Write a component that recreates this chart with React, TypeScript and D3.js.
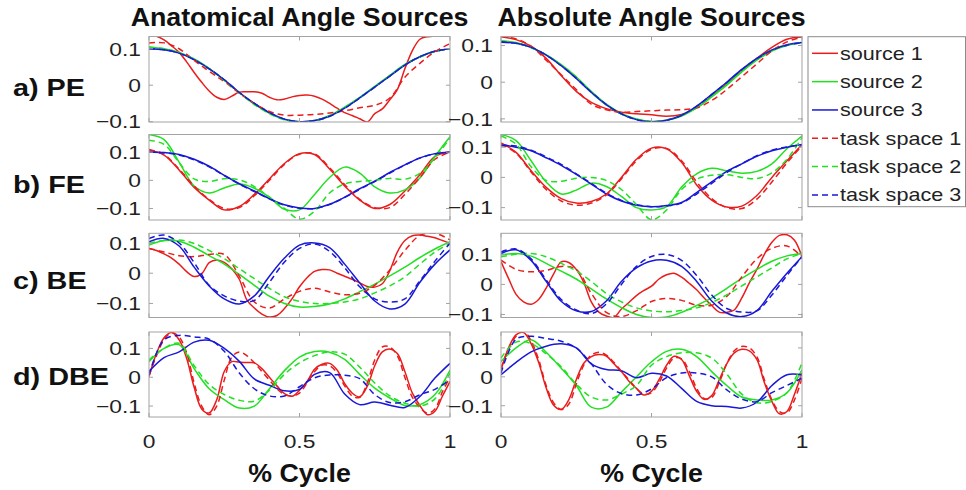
import React from "react";
import * as d3 from "d3";

// ---------- labels ----------
const COLUMN_TITLES = ["Anatomical Angle Sources", "Absolute Angle Sources"];
const ROW_LABELS = ["a) PE", "b) FE", "c) BE", "d) DBE"];
const LEGEND_LABELS = ["source 1", "source 2", "source 3", "task space 1", "task space 2", "task space 3"];
const X_TICKS = [0, 0.5, 1];
const Y_TICKS = [-0.1, 0, 0.1];
const X_LABEL = "% Cycle";

// ---------- axis limits (y) per panel: [row][col] ----------
const Y_LIMITS = [
  [[-0.1008, 0.1335], [-0.1085, 0.1246]],
  [[-0.141, 0.163], [-0.141, 0.142]],
  [[-0.1465, 0.132], [-0.11, 0.17]],
  [[-0.138, 0.157], [-0.139, 0.155]],
];

// ---------- data (values sampled uniformly over 0..1 of the cycle) ----------
// a) PE, anatomical
const peAnatSource1 = [0.134,0.134,0.124,0.108,0.09,0.064,0.035,0.008,-0.016,-0.033,-0.039,-0.03,-0.019,-0.018,-0.018,-0.022,-0.033,-0.04,-0.038,-0.032,-0.028,-0.027,-0.03,-0.038,-0.05,-0.063,-0.075,-0.083,-0.092,-0.101,-0.078,-0.065,-0.04,-0.012,0.045,0.095,0.126,0.133,0.134,0.134,0.134];
const peAnatSource2 = [0.105,0.1,0.09,0.072,0.046,0.014,-0.02,-0.052,-0.077,-0.094,-0.1,-0.097,-0.083,-0.06,-0.033,-0.003,0.027,0.057,0.078,0.093,0.1];
const peAnatSource3 = [0.1,0.097,0.088,0.07,0.045,0.015,-0.02,-0.05,-0.075,-0.093,-0.1,-0.097,-0.085,-0.063,-0.035,-0.005,0.025,0.055,0.078,0.093,0.1];
const peAnatTask1 = [0.116,0.116,0.1,0.068,0.038,0.01,-0.022,-0.05,-0.072,-0.082,-0.082,-0.08,-0.076,-0.07,-0.062,-0.055,-0.035,0.022,0.06,0.092,0.114];
const peAnatTask2 = [0.104,0.1,0.089,0.071,0.045,0.013,-0.021,-0.053,-0.078,-0.095,-0.1,-0.097,-0.084,-0.061,-0.034,-0.004,0.026,0.056,0.077,0.092,0.1];
const peAnatTask3 = [0.1,0.097,0.088,0.07,0.045,0.015,-0.02,-0.05,-0.075,-0.093,-0.1,-0.097,-0.085,-0.063,-0.035,-0.005,0.025,0.055,0.078,0.093,0.1];
// a) PE, absolute
const peAbsSource1 = [0.124,0.116,0.098,0.065,0.018,-0.025,-0.055,-0.072,-0.082,-0.086,-0.089,-0.093,-0.088,-0.07,-0.038,-0.005,0.03,0.065,0.095,0.117,0.123];
const peAbsSource2 = [0.113,0.108,0.095,0.075,0.048,0.015,-0.025,-0.06,-0.085,-0.1,-0.107,-0.104,-0.092,-0.07,-0.04,-0.008,0.028,0.06,0.085,0.1,0.108];
const peAbsSource3 = [0.109,0.106,0.095,0.074,0.045,0.01,-0.028,-0.062,-0.087,-0.102,-0.108,-0.104,-0.09,-0.065,-0.033,0.0,0.035,0.065,0.088,0.102,0.108];
const peAbsTask1 = [0.125,0.118,0.098,0.06,0.02,-0.02,-0.06,-0.075,-0.082,-0.08,-0.078,-0.076,-0.075,-0.07,-0.05,-0.02,0.015,0.05,0.085,0.11,0.123];
const peAbsTask2 = [0.112,0.107,0.094,0.074,0.047,0.013,-0.027,-0.062,-0.087,-0.101,-0.107,-0.103,-0.09,-0.068,-0.038,-0.006,0.03,0.062,0.087,0.101,0.108];
const peAbsTask3 = [0.11,0.106,0.095,0.074,0.045,0.011,-0.027,-0.061,-0.086,-0.102,-0.108,-0.104,-0.09,-0.066,-0.034,-0.001,0.034,0.064,0.087,0.101,0.108];
// b) FE, anatomical
const feAnatSource1 = [0.108,0.09,0.037,-0.025,-0.07,-0.105,-0.093,-0.05,0.005,0.06,0.095,0.092,0.04,-0.02,-0.07,-0.1,-0.086,-0.038,0.02,0.085,0.102];
const feAnatSource2 = [0.163,0.145,0.065,-0.02,-0.045,-0.027,-0.013,-0.028,-0.06,-0.103,-0.105,-0.05,0.01,0.047,0.026,-0.023,-0.045,-0.034,0.008,0.085,0.155];
const feAnatSource3 = [0.1,0.099,0.092,0.075,0.05,0.018,-0.012,-0.038,-0.065,-0.087,-0.098,-0.1,-0.085,-0.06,-0.03,-0.003,0.028,0.055,0.08,0.095,0.1];
const feAnatTask1 = [0.11,0.092,0.04,-0.02,-0.068,-0.1,-0.097,-0.055,0.0,0.057,0.093,0.094,0.045,-0.015,-0.068,-0.097,-0.097,-0.05,0.01,0.075,0.1];
const feAnatTask2 = [0.143,0.128,0.063,0.005,-0.004,0.006,0.002,-0.022,-0.06,-0.1,-0.138,-0.11,-0.045,-0.013,-0.004,0.0,0.007,0.004,0.025,0.08,0.15];
const feAnatTask3 = [0.1,0.098,0.09,0.073,0.048,0.017,-0.013,-0.04,-0.066,-0.088,-0.099,-0.1,-0.086,-0.061,-0.032,-0.004,0.026,0.054,0.079,0.094,0.1];
// b) FE, absolute
const feAbsSource1 = [0.114,0.083,0.022,-0.033,-0.07,-0.085,-0.08,-0.055,0.0,0.06,0.097,0.095,0.05,-0.025,-0.075,-0.098,-0.095,-0.06,0.0,0.055,0.109];
const feAbsSource2 = [0.142,0.122,0.055,-0.015,-0.055,-0.042,-0.019,-0.03,-0.063,-0.1,-0.108,-0.097,-0.032,0.012,0.03,0.022,0.014,0.02,0.045,0.095,0.137];
const feAbsSource3 = [0.109,0.1,0.088,0.065,0.04,0.01,-0.022,-0.055,-0.078,-0.092,-0.097,-0.093,-0.083,-0.05,-0.015,0.02,0.045,0.07,0.088,0.1,0.109];
const feAbsTask1 = [0.11,0.08,0.018,-0.04,-0.078,-0.092,-0.085,-0.058,-0.005,0.055,0.093,0.096,0.055,-0.015,-0.07,-0.1,-0.103,-0.072,-0.015,0.048,0.105];
const feAbsTask2 = [0.137,0.11,0.035,-0.01,-0.013,-0.003,0.0,-0.01,-0.04,-0.09,-0.14,-0.108,-0.04,-0.006,0.007,0.009,0.0,-0.004,0.015,0.06,0.131];
const feAbsTask3 = [0.105,0.104,0.09,0.068,0.043,0.012,-0.02,-0.052,-0.076,-0.09,-0.097,-0.095,-0.085,-0.055,-0.02,0.016,0.045,0.072,0.09,0.101,0.107];
// c) BE, anatomical
const beAnatSource1 = [0.082,0.075,0.064,0.05,0.03,0.005,-0.011,-0.002,0.035,0.044,0.036,0.015,-0.02,-0.088,-0.115,-0.135,-0.145,-0.14,-0.117,-0.085,-0.045,-0.015,0.006,0.012,0.011,0.0,-0.01,-0.02,-0.032,-0.044,-0.046,-0.035,0.008,0.07,0.108,0.124,0.126,0.122,0.117,0.108,0.099];
const beAnatSource2 = [0.093,0.108,0.106,0.086,0.058,0.03,-0.004,-0.04,-0.076,-0.1,-0.112,-0.11,-0.102,-0.085,-0.061,-0.036,-0.009,0.02,0.052,0.08,0.104];
const beAnatSource3 = [0.104,0.115,0.09,0.02,-0.042,-0.085,-0.102,-0.075,-0.01,0.05,0.093,0.1,0.085,0.03,-0.032,-0.092,-0.118,-0.102,-0.03,0.03,0.077];
const beAnatTask1 = [0.082,0.07,0.058,0.055,0.062,0.062,-0.01,-0.095,-0.115,-0.085,-0.06,-0.05,-0.062,-0.071,-0.066,-0.04,0.011,0.075,0.125,0.132,0.11];
const beAnatTask2 = [0.099,0.108,0.11,0.098,0.075,0.048,0.015,-0.018,-0.05,-0.078,-0.093,-0.1,-0.1,-0.095,-0.085,-0.065,-0.042,-0.012,0.03,0.07,0.099];
const beAnatTask3 = [0.115,0.126,0.1,0.035,-0.04,-0.075,-0.092,-0.09,-0.03,0.037,0.082,0.097,0.072,0.018,-0.045,-0.085,-0.095,-0.085,-0.025,0.04,0.099];
// c) BE, absolute
const beAbsSource1 = [0.076,0.02,-0.033,-0.058,-0.066,-0.05,-0.012,0.035,0.075,0.073,0.05,0.007,-0.058,-0.092,-0.105,-0.11,-0.082,-0.06,-0.037,-0.02,-0.006,0.018,0.032,0.037,0.024,0.004,-0.018,-0.045,-0.07,-0.092,-0.093,-0.085,-0.045,0.005,0.05,0.1,0.14,0.163,0.165,0.147,0.092];
const beAbsSource2 = [0.098,0.103,0.094,0.07,0.044,0.018,-0.015,-0.048,-0.077,-0.1,-0.11,-0.108,-0.093,-0.07,-0.045,-0.013,0.02,0.05,0.077,0.095,0.103];
const beAbsSource3 = [0.103,0.115,0.08,0.01,-0.056,-0.088,-0.09,-0.055,0.01,0.055,0.078,0.08,0.06,0.01,-0.055,-0.095,-0.107,-0.087,-0.023,0.037,0.092];
const beAbsTask1 = [0.081,0.05,0.042,0.047,0.06,0.05,-0.03,-0.093,-0.107,-0.087,-0.057,-0.047,-0.053,-0.069,-0.069,-0.04,0.025,0.085,0.12,0.128,0.092];
const beAbsTask2 = [0.092,0.1,0.103,0.092,0.07,0.045,0.01,-0.03,-0.058,-0.078,-0.088,-0.091,-0.087,-0.078,-0.06,-0.035,-0.005,0.025,0.055,0.085,0.103];
const beAbsTask3 = [0.108,0.118,0.085,0.015,-0.05,-0.085,-0.097,-0.065,0.0,0.06,0.093,0.1,0.08,0.03,-0.035,-0.08,-0.092,-0.088,-0.035,0.03,0.092];
// d) DBE, anatomical
const dbeAnatSource1 = [0.002,0.083,0.137,0.155,0.13,0.066,-0.035,-0.11,-0.124,-0.078,0.02,0.054,0.052,0.051,0.05,0.03,0.0,-0.03,-0.057,-0.066,-0.045,-0.015,0.028,0.045,0.048,0.025,-0.022,-0.055,-0.068,-0.032,0.04,0.088,0.098,0.082,0.02,-0.055,-0.098,-0.13,-0.118,-0.065,-0.015];
const dbeAnatSource2 = [0.054,0.1,0.113,0.03,-0.04,-0.078,-0.107,-0.1,-0.04,0.023,0.07,0.089,0.087,0.062,0.01,-0.038,-0.072,-0.098,-0.095,-0.06,0.025];
const dbeAnatSource3 = [0.02,0.068,0.088,0.122,0.128,0.1,0.055,-0.006,-0.028,-0.047,-0.042,0.01,0.016,-0.058,-0.095,-0.086,-0.097,-0.105,-0.067,-0.003,0.048];
const dbeAnatTask1 = [0.005,0.075,0.13,0.155,0.14,0.085,-0.02,-0.1,-0.13,-0.1,-0.01,0.07,0.088,0.075,0.05,0.02,-0.01,-0.04,-0.06,-0.065,-0.055,-0.02,0.02,0.042,0.04,0.015,-0.03,-0.065,-0.07,-0.02,0.06,0.105,0.105,0.075,0.0,-0.07,-0.105,-0.125,-0.11,-0.05,0.0];
const dbeAnatTask2 = [0.06,0.1,0.118,0.04,-0.025,-0.06,-0.08,-0.083,-0.045,0.01,0.05,0.075,0.088,0.08,0.035,-0.02,-0.065,-0.09,-0.1,-0.075,0.015];
const dbeAnatTask3 = [0.008,0.13,0.145,0.14,0.132,0.09,0.015,-0.04,-0.065,-0.065,-0.033,-0.002,0.008,0.007,-0.005,-0.06,-0.088,-0.085,-0.061,-0.042,-0.009];
// d) DBE, absolute
const dbeAbsSource1 = [0.024,0.1,0.145,0.153,0.115,0.05,-0.038,-0.098,-0.113,-0.08,-0.01,0.047,0.07,0.077,0.072,0.045,0.018,-0.015,-0.04,-0.063,-0.05,-0.01,0.04,0.071,0.06,0.005,-0.05,-0.078,-0.065,-0.01,0.045,0.083,0.095,0.09,0.06,-0.02,-0.085,-0.128,-0.12,-0.06,0.013];
const dbeAbsSource2 = [0.053,0.1,0.128,0.085,0.03,-0.03,-0.105,-0.105,-0.053,0.0,0.052,0.088,0.095,0.07,0.018,-0.03,-0.07,-0.08,-0.08,-0.055,0.024];
const dbeAbsSource3 = [0.007,0.05,0.086,0.106,0.114,0.1,0.045,0.025,0.021,-0.003,0.012,0.003,-0.04,-0.085,-0.1,-0.103,-0.108,-0.088,-0.03,0.007,0.007];
const dbeAbsTask1 = [0.03,0.095,0.14,0.158,0.125,0.06,-0.03,-0.09,-0.113,-0.095,-0.025,0.04,0.075,0.085,0.075,0.05,0.02,-0.01,-0.04,-0.06,-0.055,-0.02,0.03,0.065,0.062,0.02,-0.04,-0.075,-0.072,-0.02,0.045,0.09,0.105,0.1,0.07,-0.01,-0.08,-0.12,-0.125,-0.08,-0.005];
const dbeAbsTask2 = [0.065,0.12,0.115,0.08,0.035,-0.025,-0.07,-0.08,-0.06,-0.03,0.04,0.07,0.083,0.083,0.065,0.01,-0.06,-0.09,-0.085,-0.055,0.048];
const dbeAbsTask3 = [0.013,0.13,0.14,0.133,0.123,0.1,0.045,-0.025,-0.058,-0.063,-0.042,-0.003,0.013,0.013,0.0,-0.045,-0.077,-0.086,-0.055,-0.03,-0.005];

const PANEL_SERIES = [
  [
    [peAnatSource1, peAnatSource2, peAnatSource3, peAnatTask1, peAnatTask2, peAnatTask3],
    [peAbsSource1, peAbsSource2, peAbsSource3, peAbsTask1, peAbsTask2, peAbsTask3],
  ],
  [
    [feAnatSource1, feAnatSource2, feAnatSource3, feAnatTask1, feAnatTask2, feAnatTask3],
    [feAbsSource1, feAbsSource2, feAbsSource3, feAbsTask1, feAbsTask2, feAbsTask3],
  ],
  [
    [beAnatSource1, beAnatSource2, beAnatSource3, beAnatTask1, beAnatTask2, beAnatTask3],
    [beAbsSource1, beAbsSource2, beAbsSource3, beAbsTask1, beAbsTask2, beAbsTask3],
  ],
  [
    [dbeAnatSource1, dbeAnatSource2, dbeAnatSource3, dbeAnatTask1, dbeAnatTask2, dbeAnatTask3],
    [dbeAbsSource1, dbeAbsSource2, dbeAbsSource3, dbeAbsTask1, dbeAbsTask2, dbeAbsTask3],
  ],
];

// ---------- layout / style ----------
const W = 966;
const H = 490;
const COL_X: [number, number][] = [[149, 450], [501, 802]];
const ROW_Y: [number, number][] = [[36.5, 122], [134.5, 220], [233.3, 317.5], [332, 417]];
const ROW_LABEL_Y = [88, 185, 281, 377];
const COLORS = ["#ea1c1c", "#22e022", "#1818d8"];
const FONT = "'Liberation Sans', Arial, Helvetica, sans-serif";
const SX = 1.2; // horizontal text stretch seen in reference
const AXIS_COLOR = "#a3a3a3";
const TEXT_COLOR = "#222";

function Txt(props: {
  x: number; y: number; size: number; anchor?: string; bold?: boolean; sx?: number; fill?: string; children: React.ReactNode;
}) {
  const { x, y, size, anchor = "start", bold = false, sx = SX, fill = TEXT_COLOR, children } = props;
  return (
    <text
      transform={`translate(${x},${y}) scale(${sx},1)`}
      textAnchor={anchor as any}
      dominantBaseline="central"
      fontFamily={FONT}
      fontSize={size}
      fontWeight={bold ? "bold" : "normal"}
      fill={fill}
    >
      {children}
    </text>
  );
}

function Panel({ row, col }: { row: number; col: number }) {
  const [x0, x1] = COL_X[col];
  const [yTop, yBot] = ROW_Y[row];
  const x = d3.scaleLinear().domain([0, 1]).range([x0, x1]);
  const y = d3.scaleLinear().domain(Y_LIMITS[row][col]).range([yBot, yTop]);
  const series = PANEL_SERIES[row][col];
  const clipId = `clip-${row}-${col}`;
  const tick = 4;
  return (
    <g>
      <defs>
        <clipPath id={clipId}>
          <rect x={x0} y={yTop} width={x1 - x0} height={yBot - yTop} />
        </clipPath>
      </defs>
      <rect x={x0} y={yTop} width={x1 - x0} height={yBot - yTop} fill="#fff" />
      <g clipPath={`url(#${clipId})`}>
        {series.map((vals, i) => {
          const n = vals.length;
          const line = d3
            .line<number>()
            .x((_, j) => x(j / (n - 1)))
            .y((v) => y(v))
            .curve(d3.curveCatmullRom.alpha(0.5));
          return (
            <path
              key={i}
              d={line(vals) || ""}
              fill="none"
              stroke={COLORS[i % 3]}
              strokeWidth={1.5}
              strokeDasharray={i >= 3 ? "6,4" : undefined}
              strokeLinejoin="round"
            />
          );
        })}
      </g>
      <rect x={x0} y={yTop} width={x1 - x0} height={yBot - yTop} fill="none" stroke={AXIS_COLOR} strokeWidth={1} />
      {Y_TICKS.map((t) => (
        <g key={`y${t}`}>
          <line x1={x0} x2={x0 + tick} y1={y(t)} y2={y(t)} stroke={AXIS_COLOR} />
          <line x1={x1} x2={x1 - tick} y1={y(t)} y2={y(t)} stroke={AXIS_COLOR} />
          <Txt x={x0 - 8} y={y(t)} size={19} anchor="end">
            {d3.format("")(t)}
          </Txt>
        </g>
      ))}
      {X_TICKS.map((t) => (
        <g key={`x${t}`}>
          <line x1={x(t)} x2={x(t)} y1={yTop} y2={yTop + tick} stroke={AXIS_COLOR} />
          <line x1={x(t)} x2={x(t)} y1={yBot} y2={yBot - tick} stroke={AXIS_COLOR} />
        </g>
      ))}
      {row === 3 &&
        X_TICKS.map((t) => (
          <Txt key={`xl${t}`} x={x(t)} y={441.7} size={19} anchor="middle">
            {String(t)}
          </Txt>
        ))}
      {row === 3 && (
        <Txt x={(x0 + x1) / 2} y={473} size={25} sx={1.07} anchor="middle" bold fill="#111">
          {X_LABEL}
        </Txt>
      )}
      {row === 0 && (
        <Txt x={(x0 + x1) / 2} y={17} size={25} sx={1.07} anchor="middle" bold fill="#111">
          {COLUMN_TITLES[col]}
        </Txt>
      )}
    </g>
  );
}

function Legend() {
  const lx = 808;
  const ly = 36.7;
  const rowY = (i: number) => 53.3 + i * 28.33;
  return (
    <g>
      <rect x={lx} y={ly} width={157.5} height={170} fill="#fff" stroke="#8a8a8a" strokeWidth={1} />
      {LEGEND_LABELS.map((lab, i) => (
        <g key={lab}>
          <line
            x1={812}
            x2={838}
            y1={rowY(i)}
            y2={rowY(i)}
            stroke={COLORS[i % 3]}
            strokeWidth={1.5}
            strokeDasharray={i >= 3 ? "6,4" : undefined}
          />
          <Txt x={840} y={rowY(i)} size={18}>
            {lab}
          </Txt>
        </g>
      ))}
    </g>
  );
}

export default function App() {
  return (
    <svg
      width={W}
      height={H}
      viewBox={`0 0 ${W} ${H}`}
      style={{ position: "absolute", left: 0, top: 0, background: "#fff" }}
    >
      <rect x={0} y={0} width={W} height={H} fill="#fff" />
      {ROW_LABELS.map((lab, r) => (
        <Txt key={lab} x={13} y={ROW_LABEL_Y[r]} size={24} bold fill="#111">
          {lab}
        </Txt>
      ))}
      {[0, 1, 2, 3].map((r) =>
        [0, 1].map((c) => <Panel key={`${r}-${c}`} row={r} col={c} />)
      )}
      <Legend />
    </svg>
  );
}
